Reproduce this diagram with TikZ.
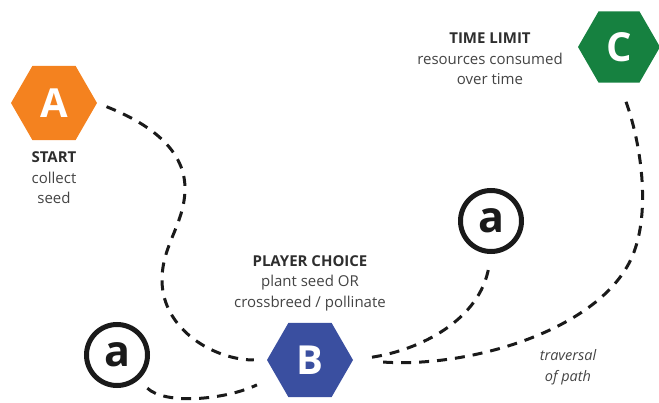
\documentclass[tikz,border=0pt]{standalone}
\usepackage{fontspec}
\setmainfont{Open Sans}
\usetikzlibrary{shapes.geometric}
\definecolor{hexA}{HTML}{F4821F}
\definecolor{hexB}{HTML}{3A4FA0}
\definecolor{hexC}{HTML}{168140}
\definecolor{ink}{HTML}{1A1A1A}
\definecolor{txt}{HTML}{444444}
\definecolor{head}{HTML}{2E2E2E}
\begin{document}
\begin{tikzpicture}[x=1pt,y=-1pt,
  hexa/.style={regular polygon, regular polygon sides=6, minimum size=86pt, inner sep=0pt, text=white, font=\fontsize{40}{40}\selectfont\bfseries},
  ring/.style={circle, draw=ink, line width=5pt, minimum size=61pt, inner sep=0pt, text=ink, font=\fontsize{43}{43}\selectfont\bfseries},
  desc/.style={align=center, text=txt, font=\fontsize{15}{20.5}\selectfont},
  trail/.style={draw=ink, line width=3pt, dash pattern=on 10pt off 8pt}]
\useasboundingbox (0,0) rectangle (659,403);
% hexagons
\node[hexa, fill=hexA] (A) at (54,103) {A};
\node[hexa, fill=hexB] (B) at (310,360) {B};
\node[hexa, fill=hexC, minimum size=82pt] (C) at (619,47) {C};
% rings
\node[ring] (a1) at (117,355) {a};
\node[ring] (a2) at (491,221) {a};
% labels
\node[desc] (tA) at (54,178) {\textcolor{head}{\bfseries START}\\collect\\seed};
\node[desc] (tC) at (490,59) {\textcolor{head}{\bfseries TIME LIMIT}\\resources consumed\\over time};
\node[desc] (tB) at (310,283) {\textcolor{head}{\bfseries PLAYER CHOICE}\\plant seed OR\\crossbreed / pollinate};
\node[desc, font=\fontsize{14.5}{21}\selectfont\itshape] (tP) at (568,367) {traversal\\of path};
% connectors
\draw[trail, shorten <=10pt, shorten >=13pt] (A.east) .. controls (140,120) and (186,145) .. (185,190)
  .. controls (184,225) and (162,245) .. (162,280)
  .. controls (162,330) and (215,360) .. (B.west);
\draw[trail, shorten <=12pt, shorten >=21pt] (a1.-49) .. controls (165,405) and (225,400) .. (B.205);
\draw[trail, shorten <=19pt, shorten >=13pt] (B.east) .. controls (420,350) and (480,320) .. (a2.south);
\draw[trail, shorten <=30pt, shorten >=20pt] (B.east) .. controls (470,368) and (600,330) .. (632,257)
  .. controls (652,211) and (640,140) .. (C.south);
\end{tikzpicture}
\end{document}
